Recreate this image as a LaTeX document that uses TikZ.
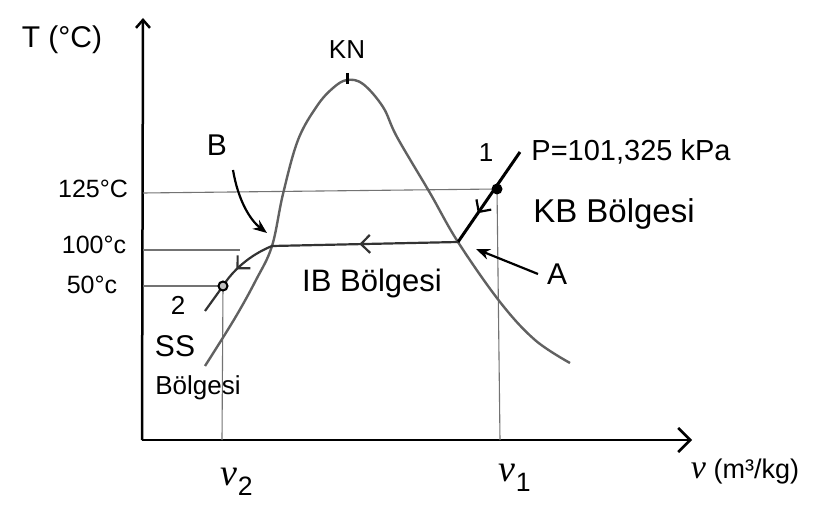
\documentclass[tikz,border=0pt]{standalone}
\usepackage{fontspec}
\setmainfont{Liberation Sans}
\newfontfamily\vfont{Liberation Serif}
\newcommand{\spv}{{\vfont\itshape v}}
\usetikzlibrary{arrows.meta,decorations.markings}
\begin{document}
\begin{tikzpicture}[x=1pt,y=-1pt,
  axis/.style={line width=2.5pt,black},
  dome/.style={line width=2.4pt,black!62},
  guide/.style={line width=1.1pt,black!55},
  procthick/.style={line width=3pt,black},
  procthin/.style={line width=2.2pt,black!80},
  midarrow/.style={postaction={decorate},decoration={markings,mark=at position #1 with {\arrow{Straight Barb[length=9pt,width=18pt,line width=2.2pt]}}}},
  lbl/.style={inner sep=0pt,font=\fontsize{30}{36}\selectfont},
  small/.style={inner sep=0pt,font=\fontsize{26}{30}\selectfont},
  tlbl/.style={inner sep=0pt,font=\fontsize{25}{30}\selectfont},
  vlbl/.style={inner sep=0pt,font=\fontsize{38}{44}\selectfont},
  pointer/.style={line width=2.2pt,black,-{Stealth[length=14pt,width=11pt]}},
]
\useasboundingbox (0,0) rectangle (822,513);
% axes
\coordinate (O) at (142,440);
\coordinate (Ytop) at (143,18);
\coordinate (Xend) at (692,440);
\draw[axis,-{Straight Barb[length=8pt,width=14pt]}] (O) -- (Ytop);
\draw[axis,-{Straight Barb[length=12pt,width=24pt]}] (O) -- (Xend);
% state points
\coordinate (P1) at (497,189);
\coordinate (P1s) at (520,152);
\coordinate (PA) at (458,242);
\coordinate (PB) at (272,246);
\coordinate (P2) at (223,286);
\coordinate (P2e) at (205,311);
\coordinate (peak) at (347,79);
% guide lines
\coordinate (y125) at (143,193);
\coordinate (y100) at (143,250);
\coordinate (y100e) at (240,250);
\coordinate (y50) at (143,286);
\coordinate (v2b) at (222,440);
\coordinate (v1b) at (500,440);
\draw[guide] (y125) -- (P1);
\draw[guide] (y100) -- (y100e);
\draw[guide] (y50) -- (P2);
\draw[guide] (P2) -- (v2b);
\draw[guide] (P1) -- (v1b);
% saturation dome
\draw[dome] plot[smooth, tension=0.6] coordinates {(205,366) (235,318) (256,280) (272,246) (283,194) (298,140) (317,106) (333,88) (347,80) (363,84) (383,107) (397,137) (430,193) (458,242) (500,302) (535,340) (570,363)};
\draw[line width=3pt] (347,73) -- (347,84);
% process
\draw[procthick,midarrow=0.68] (P1s) -- (PA);
\draw[procthin,midarrow=0.53] (PA) -- (PB);
\draw[procthin,midarrow=0.45] (PB) .. controls (250,255) and (233,270) .. (P2) -- (P2e);
\fill (P1) circle (5.5pt);
\node[circle,draw,fill=black!25,line width=2pt,minimum size=9pt,inner sep=0pt] (n2) at (P2) {};
% labels
\node[lbl] (T) at (62,40) {T (°C)};
\node[small] (KN) at (347,50) {KN};
\node[lbl] (Blbl) at (217,145) {B};
\node[small] (one) at (486,153) {1};
\node[inner sep=0pt,font=\fontsize{29}{34}\selectfont] (P) at (631,152) {P=101,325 kPa};
\node[inner sep=0pt,font=\fontsize{33}{40}\selectfont,anchor=base] (KB) at (614,223) {KB Bölgesi};
\node[lbl] (Albl) at (557,274) {A};
\node[tlbl] (t125) at (93,189) {125°C};
\node[tlbl] (t100) at (94,245) {100°c};
\node[tlbl] (t50) at (92,285) {50°c};
\node[small] (two) at (178,305) {2};
\node[lbl] (SS) at (175,346) {SS};
\node[inner sep=0pt,font=\fontsize{26}{30}\selectfont] (SSb) at (198,388) {Bölgesi};
\node[inner sep=0pt,font=\fontsize{31}{36}\selectfont] (IB) at (372,283) {IB Bölgesi};
\node[vlbl] (v2) at (237,482) {\spv\textsubscript{2}};
\node[vlbl] (v1) at (515,478) {\spv\textsubscript{1}};
\node[inner sep=0pt,font=\fontsize{27}{32}\selectfont] (vax) at (745,472) {{\fontsize{34}{34}\selectfont\spv} (m³/kg)};
% pointers
\coordinate (Bs) at (233,170);
\coordinate (Be) at (267,233);
\coordinate (As) at (538,274);
\coordinate (Ae) at (476,249);
\draw[pointer] (Bs) .. controls (238,200) and (250,220) .. (Be);
\draw[pointer] (As) -- (Ae);
\end{tikzpicture}
\end{document}
